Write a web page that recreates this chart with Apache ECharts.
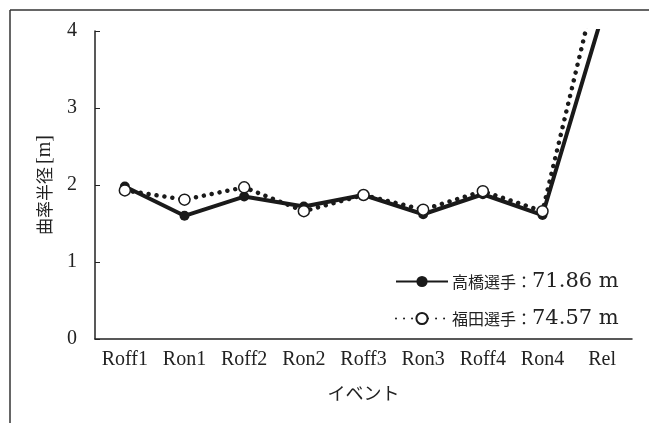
<!DOCTYPE html>
<html>
<head>
<meta charset="utf-8">
<script src="https://cdn.jsdelivr.net/npm/echarts@6/dist/echarts.min.js"></script>
<style>
html,body{margin:0;padding:0;background:#fff;}
#chart{width:649px;height:423px;}
</style>
</head>
<body>
<div id="chart"></div>
<script>
const categories = ['Roff1','Ron1','Roff2','Ron2','Roff3','Ron3','Roff4','Ron4','Rel'];
const takahashi = [1.98, 1.60, 1.85, 1.72, 1.87, 1.62, 1.88, 1.61, 4.2];
const fukuda = [1.93, 1.81, 1.97, 1.66, 1.87, 1.68, 1.92, 1.66, 4.9];
const seriesNames = ['高橋選手：71.86 m', '福田選手：74.57 m'];
const yTicks = [0, 1, 2, 3, 4];
const yName = ['曲率半径', '[m]'];
const xName = 'イベント';

const SERIF = '"Liberation Serif", "Times New Roman", serif';
const CJK = '"Noto Sans CJK JP", sans-serif';
const WIDE = '"DejaVu Serif", "Liberation Serif", serif';
const INK = '#222';

const chart = echarts.init(document.getElementById('chart'), null, {renderer: 'canvas'});
chart.setOption({
  backgroundColor: '#fff',
  animation: false,
  textStyle: {fontFamily: SERIF},
  graphic: [
    {type: 'line', shape: {x1: 10, y1: 10, x2: 649, y2: 10}, style: {stroke: '#333', lineWidth: 1.5}},
    {type: 'line', shape: {x1: 10, y1: 10, x2: 10, y2: 423}, style: {stroke: '#333', lineWidth: 1.5}}
  ],
  grid: {left: 95, top: 31, right: 17, bottom: 84},
  legend: {
    orient: 'vertical',
    left: 395,
    top: 271,
    padding: 0,
    itemWidth: 52,
    itemHeight: 14,
    itemGap: 16,
    formatter: function (name) {
      const i = name.indexOf('：');
      return '{c|' + name.slice(0, i + 1) + '}{l|' + name.slice(i + 1) + '}';
    },
    textStyle: {
      color: INK,
      padding: [0, 0, 0, -1],
      rich: {
        c: {fontFamily: CJK, fontSize: 16, color: INK, lineHeight: 23},
        l: {fontFamily: WIDE, fontSize: 21, color: INK, lineHeight: 23}
      }
    },
    data: seriesNames
  },
  xAxis: {
    type: 'category',
    data: categories,
    boundaryGap: true,
    name: xName,
    nameLocation: 'middle',
    nameGap: 45,
    nameTextStyle: {fontFamily: CJK, fontSize: 18, color: INK},
    axisLine: {lineStyle: {color: INK, width: 1.5}},
    axisTick: {inside: true, length: 5, lineStyle: {color: INK, width: 1}},
    axisLabel: {fontFamily: SERIF, fontSize: 20, color: INK, margin: 11, interval: 0}
  },
  yAxis: {
    type: 'value',
    min: yTicks[0],
    max: yTicks[yTicks.length - 1],
    interval: 1,
    name: '{c|' + yName[0] + '} {l|' + yName[1] + '}',
    nameLocation: 'middle',
    nameGap: 40,
    nameTextStyle: {
      color: INK,
      rich: {
        c: {fontFamily: CJK, fontSize: 17, color: INK},
        l: {fontFamily: SERIF, fontSize: 20, color: INK}
      }
    },
    splitLine: {show: false},
    axisLine: {show: true, lineStyle: {color: INK, width: 1.5}},
    axisTick: {show: true, inside: true, length: 5, lineStyle: {color: INK, width: 1}},
    axisLabel: {fontFamily: SERIF, fontSize: 20, color: INK, margin: 18}
  },
  series: [
    {
      name: seriesNames[0],
      type: 'line',
      data: takahashi,
      clip: true,
      symbol: 'circle',
      symbolSize: 10,
      itemStyle: {color: '#1a1a1a'},
      lineStyle: {color: '#1a1a1a', width: 4}
    },
    {
      name: seriesNames[1],
      type: 'line',
      data: fukuda,
      clip: true,
      symbol: 'circle',
      symbolSize: 11,
      itemStyle: {color: '#fff', borderColor: '#1a1a1a', borderWidth: 1.5},
      lineStyle: {color: '#1a1a1a', width: 4.5, type: [0.01, 8], cap: 'round'}
    }
  ]
});
</script>
</body>
</html>
